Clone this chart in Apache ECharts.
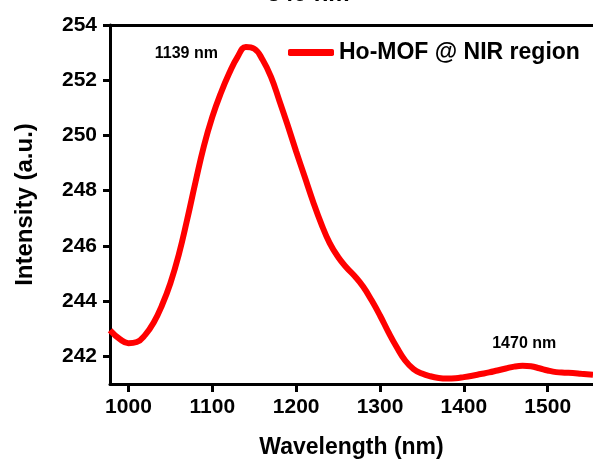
<!DOCTYPE html>
<html>
<head>
<meta charset="utf-8">
<script src="https://cdn.jsdelivr.net/npm/echarts@6/dist/echarts.min.js"></script>
<style>html,body{margin:0;padding:0;background:#fff;}#c{width:593px;height:464px;}</style>
</head>
<body>
<div id="c"></div>
<script>
// Data
var wavelengths = [978, 990, 1000, 1010, 1020, 1030, 1040, 1050, 1060, 1070, 1080, 1090, 1100, 1110, 1120, 1130, 1140, 1150, 1160, 1170, 1180, 1190, 1200, 1210, 1220, 1230, 1240, 1250, 1260, 1270, 1280, 1290, 1300, 1310, 1320, 1330, 1340, 1350, 1360, 1370, 1380, 1390, 1400, 1410, 1420, 1430, 1440, 1450, 1460, 1470, 1480, 1490, 1500, 1510, 1520, 1530, 1540, 1554];
var intensity = [242.95, 242.62, 242.48, 242.52, 242.78, 243.22, 243.85, 244.65, 245.68, 246.95, 248.32, 249.62, 250.67, 251.52, 252.24, 252.84, 253.2, 253.14, 252.74, 252.12, 251.26, 250.36, 249.42, 248.52, 247.62, 246.8, 246.1, 245.6, 245.22, 244.9, 244.52, 244.03, 243.48, 242.88, 242.33, 241.85, 241.54, 241.38, 241.28, 241.22, 241.2, 241.21, 241.25, 241.3, 241.36, 241.42, 241.49, 241.56, 241.63, 241.66, 241.64, 241.57, 241.49, 241.43, 241.41, 241.4, 241.37, 241.33];
var xTicks = [1000, 1100, 1200, 1300, 1400, 1500];
var yTicks = [242, 244, 246, 248, 250, 252, 254];
var annLabels = ['1139 nm', '1470 nm'];
var annX = [1069, 1472];
var annY = [252.93, 242.44];
var seriesName = 'Ho-MOF @ NIR region';
var titleText = '349 nm';

var FONT = 'Liberation Sans, Arial, sans-serif';
var lineData = wavelengths.map(function (w, i) { return [w, intensity[i]]; });
var annData = annLabels.map(function (t, i) { return [annX[i], annY[i], t]; });

var chart = echarts.init(document.getElementById('c'), null, {renderer: 'canvas'});
chart.setOption({
  backgroundColor: '#ffffff',
  animation: false,
  title: {
    text: titleText, left: 267, top: -18, padding: 0,
    textStyle: {fontFamily: FONT, fontWeight: 'bold', fontSize: 24, color: '#000'}
  },
  legend: {
    data: [{name: seriesName, icon: 'roundRect'}],
    left: 288, top: 41, padding: 0,
    itemWidth: 46, itemHeight: 7,
    textStyle: {fontFamily: FONT, fontWeight: 'bold', fontSize: 23, color: '#000'}
  },
  grid: {left: 110, right: 0, top: 25, bottom: 76, containLabel: false},
  xAxis: [{
    type: 'value', min: 978, max: 1554,
    name: 'Wavelength (nm)', nameLocation: 'middle', nameGap: 52,
    nameTextStyle: {fontFamily: FONT, fontWeight: 'bold', fontSize: 23, color: '#000'},
    axisLine: {show: true, onZero: false, lineStyle: {color: '#000', width: 3}},
    axisTick: {show: true, length: 8, lineStyle: {color: '#000', width: 3}, customValues: xTicks},
    axisLabel: {fontFamily: FONT, fontWeight: 'bold', fontSize: 21, color: '#000', margin: 13, customValues: xTicks,
      formatter: function (v) { return String(v); }},
    splitLine: {show: false}
  }, {
    type: 'value', position: 'top', min: 978, max: 1554,
    axisLine: {show: true, onZero: false, lineStyle: {color: '#000', width: 3}},
    axisTick: {show: false}, axisLabel: {show: false}, splitLine: {show: false}
  }],
  yAxis: {
    type: 'value', min: 241, max: 254,
    name: 'Intensity (a.u.)', nameLocation: 'middle', nameGap: 73,
    nameTextStyle: {fontFamily: FONT, fontWeight: 'bold', fontSize: 24, color: '#000'},
    axisLine: {show: true, onZero: false, lineStyle: {color: '#000', width: 3}},
    axisTick: {show: true, length: 7, lineStyle: {color: '#000', width: 3}, customValues: yTicks},
    axisLabel: {fontFamily: FONT, fontWeight: 'bold', fontSize: 21, color: '#000', margin: 13, customValues: yTicks,
      formatter: function (v) { return String(v); }},
    splitLine: {show: false}
  },
  series: [{
    name: seriesName, type: 'line', data: lineData, smooth: 0.45,
    showSymbol: false, symbol: 'none',
    lineStyle: {color: '#ff0000', width: 6},
    itemStyle: {color: '#ff0000'}
  }, {
    name: 'annotations', type: 'scatter', data: annData, symbolSize: 1,
    itemStyle: {color: 'rgba(0,0,0,0)'},
    silent: true,
    label: {
      show: true, position: 'top', distance: 0, verticalAlign: 'middle',
      formatter: function (p) { return p.value[2]; },
      fontFamily: FONT, fontWeight: 'bold', fontSize: 16, color: '#000000',
      opacity: 1, textBorderWidth: 0
    }
  }]
});
</script>
</body>
</html>
